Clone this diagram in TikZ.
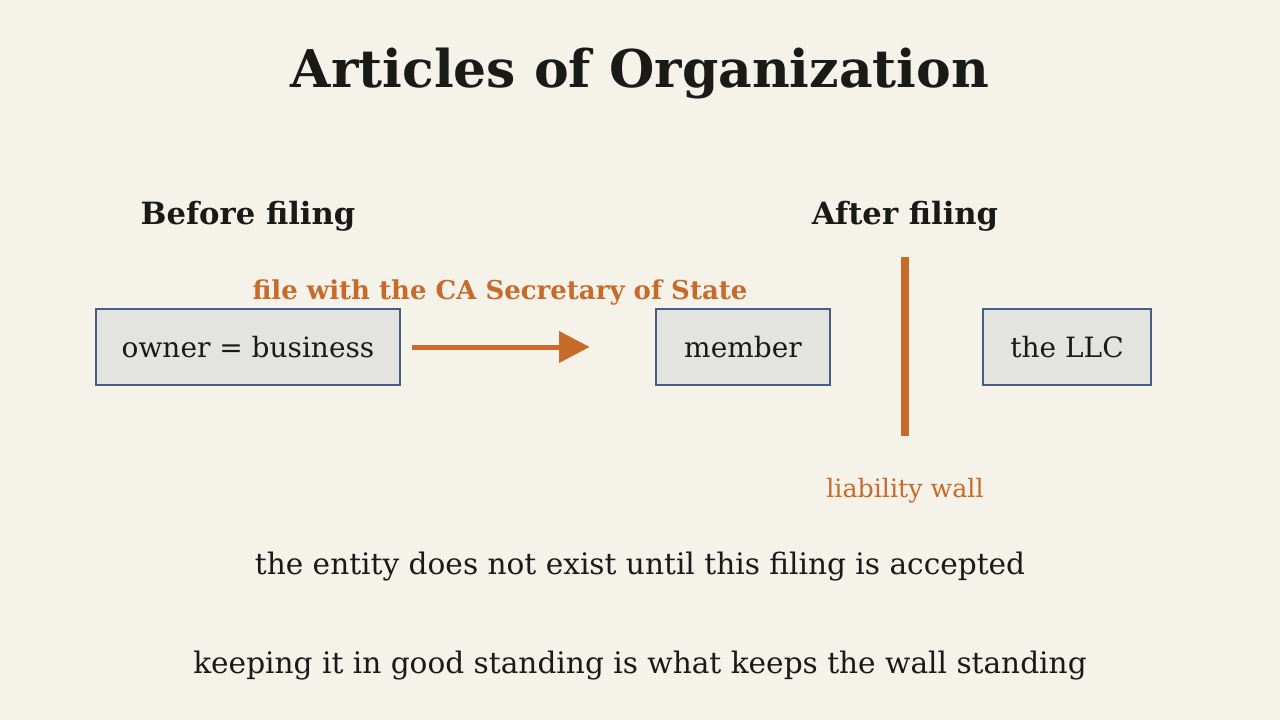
\documentclass[tikz,border=0pt]{standalone}
\usepackage{fontspec}
\setmainfont{DejaVu Serif}
\usetikzlibrary{arrows.meta}
\definecolor{paper}{HTML}{F5F2EA}
\definecolor{boxfill}{HTML}{E3E4DF}
\definecolor{boxline}{HTML}{445F85}
\definecolor{rust}{HTML}{C66B2A}
\definecolor{ink}{HTML}{1A1A16}
\tikzset{
  party/.style={draw=boxline, fill=boxfill, line width=1.5pt, minimum height=57pt,
    inner sep=0pt, text=ink, font=\fontsize{21}{24}\selectfont},
  heading/.style={text=ink, font=\bfseries\fontsize{23}{26}\selectfont},
  note/.style={text=ink, font=\fontsize{22.2}{25}\selectfont},
}
\begin{document}
\begin{tikzpicture}[x=0.75pt, y=-0.75pt]
	\fill[paper] (0,0) rectangle (1280,720);
	\useasboundingbox (0,0) rectangle (1280,720);
	\node[text=ink, font=\bfseries\fontsize{39}{44}\selectfont] (title) at (640,74) {Articles of Organization};
	\node[heading] (before) at (248,216) {Before filing};
	\node[heading] (after) at (905,216) {After filing};
	% the three boxes
	\node[party, minimum width=228pt] (owner) at (248,347) {owner = business};
	\node[party, minimum width=130.5pt] (member) at (743,347) {member};
	\node[party, minimum width=126pt] (llc) at (1067,347) {the LLC};
	\node[text=rust, font=\bfseries\fontsize{19.5}{22}\selectfont] (filelbl) at (500,293) {file with the CA Secretary of State};
	\draw[rust, line width=3.75pt, -{Triangle[length=23pt, width=23pt]}, shorten <=8pt, shorten >=49pt] (owner.east) -- (member.west);
	% liability wall
	\coordinate (walltop) at (905,257);
	\coordinate (wallbot) at (905,436);
	\draw[rust, line width=6pt] (walltop) -- (wallbot);
	\node[text=rust, font=\fontsize{19}{22}\selectfont] (walllbl) at (905,491) {liability wall};
	\node[note] (line1) at (640,567) {the entity does not exist until this filing is accepted};
	\node[note] (line2) at (640,666) {keeping it in good standing is what keeps the wall standing};
\end{tikzpicture}
\end{document}
